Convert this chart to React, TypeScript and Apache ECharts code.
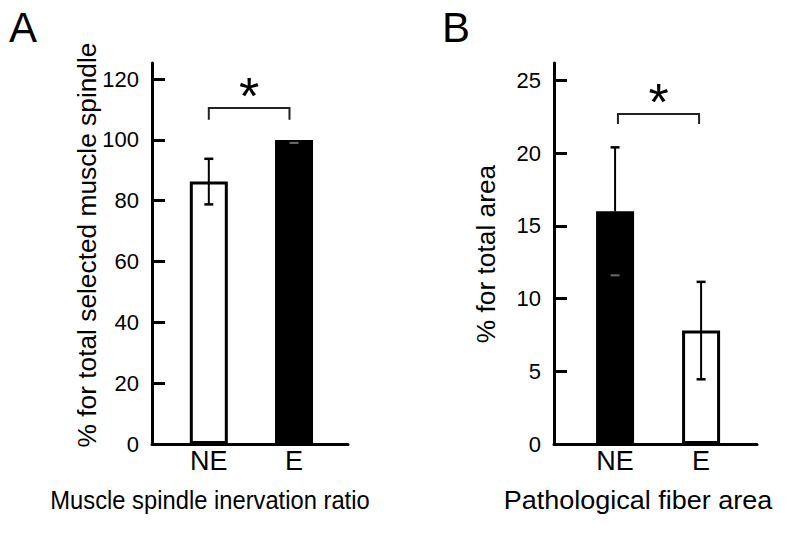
import React, { useEffect, useRef } from 'react';
import * as echarts from 'echarts';

// ---------- data ----------
const categories = ['NE', 'E'];
const innervationMean = [86.3, 100];
const innervationErr = [7.5, 0];
const fiberAreaMean = [16.0, 7.8];
const fiberAreaErr = [4.4, 3.35];
const innervationTicks = [0, 20, 40, 60, 80, 100, 120];
const fiberAreaTicks = [0, 5, 10, 15, 20, 25];
// significance bracket: [bracket level, bracket end level]
const innervationSignif = [110.5, 106.6];
const fiberAreaSignif = [22.7, 22.0];

// ---------- layout / style ----------
const FONT = 'Liberation Sans';
const catPosA = [2, 5];
const catPosB = [2.13, 5.13];
const bracketXA = [2.0, 4.84];
const bracketXB = [2.23, 5.06];
const fillsA = ['#ffffff', '#000000'];
const fillsB = ['#000000', '#ffffff'];

function buildPanel(
  idx: number,
  pos: number[],
  means: number[],
  errs: number[],
  fills: string[],
  bracketX: number[],
  signif: number[],
  ticks: number[]
) {
  const bars = {
    type: 'bar',
    xAxisIndex: idx,
    yAxisIndex: idx,
    barWidth: 38,
    z: 2,
    data: means.map((m, i) => ({
      value: [pos[i], m],
      itemStyle: { color: fills[i], borderColor: '#000', borderWidth: 3 },
    })),
  };
  const errors = {
    type: 'custom',
    xAxisIndex: idx,
    yAxisIndex: idx,
    z: 3,
    encode: { x: 0, y: [1, 2] },
    data: means.map((m, i) => [pos[i], m - errs[i], m + errs[i], m, fills[i] === '#000000' ? 1 : 0]),
    renderItem: (params: any, api: any) => {
      const x = api.value(0);
      const lo = api.value(1);
      const hi = api.value(2);
      const mean = api.value(3);
      const dark = api.value(4) === 1;
      const pHi = api.coord([x, hi]);
      const pLo = api.coord([x, lo]);
      const pMean = api.coord([x, mean]);
      const hw = 4.5;
      const children: any[] = [];
      if (dark) {
        if (hi > mean) {
          children.push({ type: 'line', shape: { x1: pHi[0], y1: pHi[1], x2: pMean[0], y2: pMean[1] }, style: { stroke: '#000', lineWidth: 2 } });
          children.push({ type: 'line', shape: { x1: pHi[0] - hw, y1: pHi[1], x2: pHi[0] + hw, y2: pHi[1] }, style: { stroke: '#000', lineWidth: 2.5 } });
        }
        const off = hi > mean ? 0 : 3;
        children.push({ type: 'line', shape: { x1: pLo[0] - hw, y1: pLo[1] + off, x2: pLo[0] + hw, y2: pLo[1] + off }, style: { stroke: '#6a6a6a', lineWidth: 2 } });
      } else {
        children.push({ type: 'line', shape: { x1: pHi[0], y1: pHi[1], x2: pLo[0], y2: pLo[1] }, style: { stroke: '#000', lineWidth: 2 } });
        children.push({ type: 'line', shape: { x1: pHi[0] - hw, y1: pHi[1], x2: pHi[0] + hw, y2: pHi[1] }, style: { stroke: '#000', lineWidth: 2.5 } });
        children.push({ type: 'line', shape: { x1: pLo[0] - hw, y1: pLo[1], x2: pLo[0] + hw, y2: pLo[1] }, style: { stroke: '#000', lineWidth: 2.5 } });
      }
      return { type: 'group', children };
    },
  };
  const bracket = {
    type: 'custom',
    xAxisIndex: idx,
    yAxisIndex: idx,
    z: 4,
    clip: false,
    encode: { x: [0, 1], y: [2, 3] },
    data: [[bracketX[0], bracketX[1], signif[0], signif[1]]],
    renderItem: (params: any, api: any) => {
      const p1 = api.coord([api.value(0), api.value(3)]);
      const p2 = api.coord([api.value(0), api.value(2)]);
      const p3 = api.coord([api.value(1), api.value(2)]);
      const p4 = api.coord([api.value(1), api.value(3)]);
      return {
        type: 'group',
        children: [
          { type: 'polyline', shape: { points: [p1, p2, p3, p4] }, style: { stroke: '#222', lineWidth: 2, fill: null } },
          {
            type: 'text',
            x: (p2[0] + p3[0]) / 2,
            y: p2[1] - 12,
            style: { text: '*', fontSize: 52, fontFamily: FONT, fill: '#000', align: 'center', verticalAlign: 'middle' },
          },
        ],
      };
    },
  };
  // y tick labels, placed through the value axis
  const tickLabels = {
    type: 'custom',
    xAxisIndex: idx,
    yAxisIndex: idx,
    z: 5,
    clip: false,
    silent: true,
    encode: { x: 0, y: 1 },
    data: ticks.map((t) => [0, t]),
    renderItem: (params: any, api: any) => {
      const v = api.value(1);
      const p = api.coord([api.value(0), v]);
      return {
        type: 'text',
        x: p[0] - 13,
        y: p[1],
        style: { text: String(v), fontSize: 22, fontFamily: FONT, fill: '#000', align: 'right', verticalAlign: 'middle' },
      };
    },
  };
  return [bars, errors, bracket, tickLabels];
}

function xAxisFor(idx: number, pos: number[], max: number) {
  return {
    type: 'value',
    gridIndex: idx,
    min: 0,
    max,
    axisLine: { show: true, onZero: false, lineStyle: { color: '#000', width: 3 } },
    axisTick: { show: false },
    splitLine: { show: false },
    axisLabel: {
      customValues: pos,
      formatter: (v: number) => {
        const i = pos.findIndex((p) => Math.abs(p - v) < 1e-6);
        return i >= 0 ? categories[i] : '';
      },
      color: '#000',
      fontSize: 27,
      fontFamily: FONT,
      margin: 3,
    },
  };
}

function yAxisFor(idx: number, ticks: number[], max: number) {
  const step = ticks[1] - ticks[0];
  return {
    type: 'value',
    gridIndex: idx,
    min: 0,
    max,
    interval: step,
    axisLine: { show: true, onZero: false, lineStyle: { color: '#000', width: 3 } },
    axisTick: { show: true, inside: true, length: 13, customValues: ticks, lineStyle: { color: '#000', width: 3 } },
    splitLine: { show: false },
    axisLabel: { show: false },
  };
}

export default function App() {
  const ref = useRef<HTMLDivElement>(null);
  useEffect(() => {
    if (!ref.current) return;
    const chart = echarts.init(ref.current, null, { renderer: 'svg' });
    const option: any = {
      animation: false,
      backgroundColor: '#ffffff',
      textStyle: { fontFamily: FONT, color: '#000' },
      grid: [
        { left: 152, right: 787 - 348, top: 63, bottom: 541 - 444 },
        { left: 554, right: 787 - 757, top: 63, bottom: 541 - 444 },
      ],
      xAxis: [xAxisFor(0, catPosA, 6.9), xAxisFor(1, catPosB, 7.08)],
      yAxis: [yAxisFor(0, innervationTicks, 125.3), yAxisFor(1, fiberAreaTicks, 26.2)],
      series: [
        ...buildPanel(0, catPosA, innervationMean, innervationErr, fillsA, bracketXA, innervationSignif, innervationTicks),
        ...buildPanel(1, catPosB, fiberAreaMean, fiberAreaErr, fillsB, bracketXB, fiberAreaSignif, fiberAreaTicks),
      ],
      graphic: [
        { type: 'text', x: 9, y: 27, style: { text: 'A', fontSize: 42, fontFamily: FONT, fill: '#000', verticalAlign: 'middle' } },
        { type: 'text', x: 442, y: 27, style: { text: 'B', fontSize: 42, fontFamily: FONT, fill: '#000', verticalAlign: 'middle' } },
        {
          type: 'text', x: 87, y: 245, rotation: Math.PI / 2,
          style: { text: '% for total selected muscle spindle', fontSize: 26.3, fontFamily: FONT, fill: '#000', align: 'center', verticalAlign: 'middle' },
        },
        {
          type: 'text', x: 486, y: 254, rotation: Math.PI / 2,
          style: { text: '% for total area', fontSize: 26.3, fontFamily: FONT, fill: '#000', align: 'center', verticalAlign: 'middle' },
        },
        {
          type: 'text', x: 210, y: 500, scaleX: 0.95,
          style: { text: 'Muscle spindle inervation ratio', fontSize: 25, fontFamily: FONT, fill: '#000', align: 'center', verticalAlign: 'middle' },
        },
        {
          type: 'text', x: 638, y: 500, scaleX: 1.08,
          style: { text: 'Pathological fiber area', fontSize: 25, fontFamily: FONT, fill: '#000', align: 'center', verticalAlign: 'middle' },
        },
      ],
    };
    chart.setOption(option);
    return () => chart.dispose();
  }, []);
  return <div ref={ref} style={{ position: 'fixed', left: 0, top: 0, width: 787, height: 541, background: '#fff' }} />;
}
